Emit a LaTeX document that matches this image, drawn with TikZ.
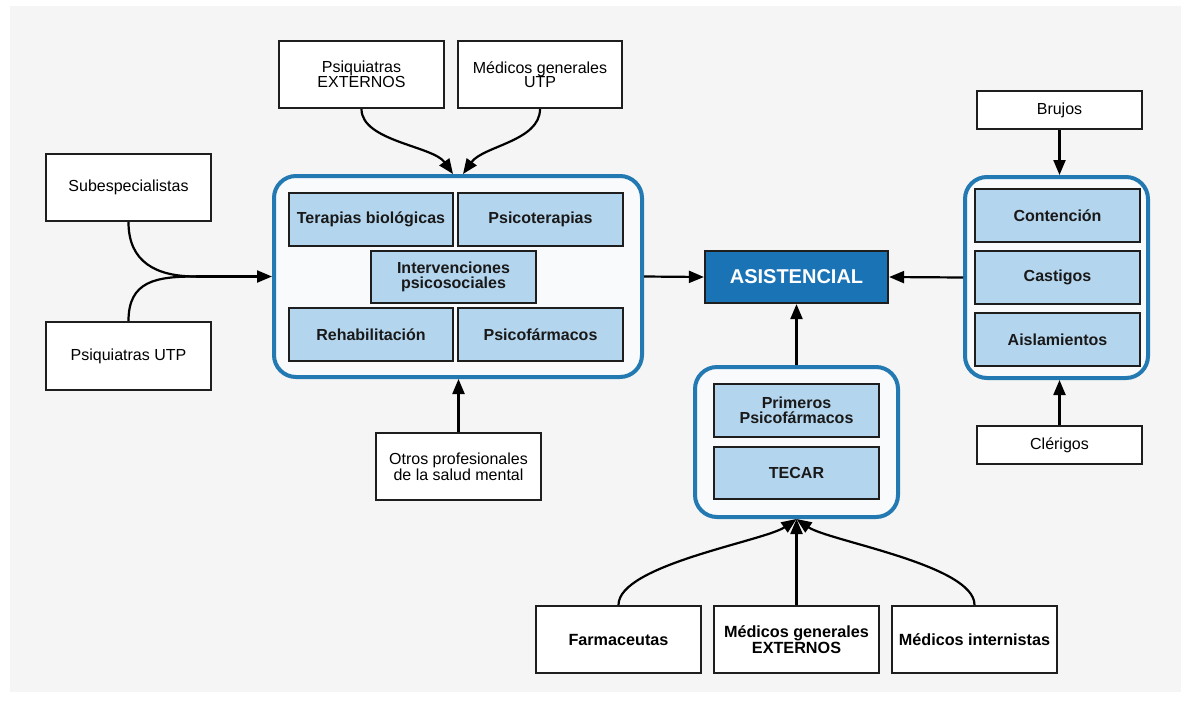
\documentclass[tikz,border=0pt]{standalone}
\usepackage{fontspec}
\setmainfont{Liberation Sans}
\usetikzlibrary{arrows.meta}
\definecolor{panel}{HTML}{F5F5F5}
\definecolor{cblue}{HTML}{2379B2}
\definecolor{cfill}{HTML}{F8FAFC}
\definecolor{lblue}{HTML}{B4D5EE}
\definecolor{dblue}{HTML}{1A73B5}
\definecolor{edge}{HTML}{1E1E1E}
\tikzset{
  wbox/.style={draw=edge, line width=2.2pt, fill=white, align=center, inner sep=2pt,
    font=\fontsize{16}{14.5}\selectfont},
  wboxb/.style={wbox, font=\fontsize{16.2}{14.5}\selectfont\bfseries},
  ibox/.style={draw=edge, line width=2.2pt, fill=lblue, align=center, inner sep=2pt,
    font=\fontsize{16}{14.5}\selectfont\bfseries, text=black!90},
  grp/.style={draw=cblue, line width=4pt, fill=cfill, rounded corners=22pt},
  conn/.style={draw=black, line width=2.2pt, -{Triangle[length=15pt,width=12pt]}},
  plain/.style={draw=black, line width=2.2pt}
}
\begin{document}
\begin{tikzpicture}[x=1pt,y=-1pt]
\useasboundingbox (0,0) rectangle (1191,702);
\fill[white] (0,0) rectangle (1191,702);
\fill[panel] (10,6) rectangle (1181,692);

% containers
\node[grp, minimum width=368pt, minimum height=201pt] (lc) at (458,276.5) {};
\node[grp, minimum width=203pt, minimum height=150pt] (mc) at (796.5,442) {};
\node[grp, minimum width=183pt, minimum height=201pt] (rc) at (1056.5,277.5) {};

% inner boxes left
\node[ibox, minimum width=164pt, minimum height=53pt] (tb) at (371,219.5) {Terapias biológicas};
\node[ibox, minimum width=165pt, minimum height=53pt] (pt) at (540.5,219.5) {Psicoterapias};
\node[ibox, minimum width=165pt, minimum height=52pt] (ip) at (453.5,277) {Intervenciones\\psicosociales};
\node[ibox, minimum width=164pt, minimum height=53pt] (rh) at (371,334.5) {Rehabilitación};
\node[ibox, minimum width=165pt, minimum height=53pt] (pf) at (540.5,334.5) {Psicofármacos};

% inner boxes middle
\node[ibox, minimum width=165pt, minimum height=53pt] (prim) at (796.5,410.5) {Primeros\\Psicofármacos};
\node[ibox, minimum width=165pt, minimum height=52pt] (tecar) at (796.5,473) {TECAR};

% inner boxes right
\node[ibox, minimum width=165pt, minimum height=53pt] (conten) at (1057.5,215.5) {Contención};
\node[ibox, minimum width=165pt, minimum height=53pt] (cast) at (1057.5,277.5) {Castigos};
\node[ibox, minimum width=165pt, minimum height=53pt] (aisl) at (1057.5,339.5) {Aislamientos};

% central
\node[draw=edge, line width=2.2pt, fill=dblue, text=white, minimum width=183pt, minimum height=52pt,
  font=\fontsize{20}{20}\selectfont\bfseries] (asis) at (796.5,277) {ASISTENCIAL};

% outer boxes
\node[wbox, minimum width=165pt, minimum height=67pt] (pe) at (361.5,74.5) {Psiquiatras\\EXTERNOS};
\node[wbox, minimum width=164pt, minimum height=67pt] (mgu) at (540,74.5) {Médicos generales\\UTP};
\node[wbox, minimum width=165pt, minimum height=67pt] (sub) at (128.5,187.5) {Subespecialistas};
\node[wbox, minimum width=165pt, minimum height=68pt] (putp) at (128.5,356) {Psiquiatras UTP};
\node[wbox, minimum width=165pt, minimum height=67pt] (otros) at (458.5,466.5) {Otros profesionales\\de la salud mental};
\node[wbox, minimum width=165pt, minimum height=38pt] (brujos) at (1059.5,110) {Brujos};
\node[wbox, minimum width=165pt, minimum height=38pt] (cler) at (1059.5,445) {Clérigos};
\node[wboxb, minimum width=165pt, minimum height=67pt] (farm) at (618.5,639.5) {Farmaceutas};
\node[wboxb, minimum width=165pt, minimum height=67pt] (mge) at (796.5,639.5) {Médicos generales\\EXTERNOS};
\node[wboxb, minimum width=165pt, minimum height=67pt] (mint) at (974.5,639.5) {Médicos internistas};

\coordinate (jl) at (196,276.5);

% connectors
\draw[conn] (pe.south) .. controls +(0,32) and +(-20,-28) .. ([xshift=-5pt]lc.north);
\draw[conn] (mgu.south) .. controls +(0,32) and +(20,-28) .. ([xshift=5pt]lc.north);
\draw[plain] (sub.south) .. controls +(0,40) and +(-40,0) .. (jl);
\draw[plain] (putp.north) .. controls +(0,-40) and +(-40,0) .. (jl);
\draw[conn] (jl) -- (lc.west);
\draw[conn] (otros.north) -- (otros.north |- lc.south);
\draw[conn] (lc.east) -- (asis.west);
\draw[conn] (rc.west) -- (asis.east);
\draw[conn] (mc.north) -- (asis.south);
\draw[conn] (brujos.south) -- (brujos.south |- rc.north);
\draw[conn] (cler.north) -- (cler.north |- rc.south);
\draw[conn] (farm.north) .. controls +(0,-40) and +(-32,22) .. (mc.south);
\draw[conn] (mint.north) .. controls +(0,-40) and +(32,22) .. (mc.south);
\draw[conn] (mge.north) -- (mc.south);
\end{tikzpicture}
\end{document}
